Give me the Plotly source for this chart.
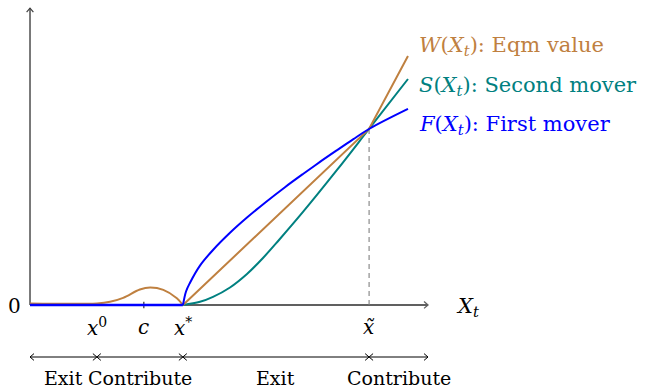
import plotly.graph_objects as go

# ---- curve data (state X_t on the horizontal axis, value on the vertical axis) ----
x_zero = 1.68      # x^0
c_val = 2.86       # c
x_star = 3.84      # x*
x_tilde = 8.52     # x~ (where the three curves cross)
x_end = 10.0       # end of horizontal axis
y_end = 7.46       # end of vertical axis

# F(X_t): first mover (zero below x*, concave above)
f_x = [3.844, 3.920, 4.020, 4.271, 4.598, 5.025, 5.452, 5.905, 6.407, 6.859,
       7.286, 7.714, 8.116, 8.518, 9.497]
f_y = [0.000, 0.340, 0.560, 0.990, 1.382, 1.814, 2.196, 2.570, 2.960, 3.291,
       3.595, 3.889, 4.161, 4.422, 4.925]

# S(X_t): second mover (zero below x*, convex above)
s_x = [3.844, 4.271, 4.598, 5.025, 5.452, 5.854, 6.256, 6.859, 7.714, 8.518, 9.497]
s_y = [0.000, 0.080, 0.204, 0.440, 0.779, 1.181, 1.633, 2.337, 3.392, 4.422, 5.678]

# W(X_t): equilibrium value -- small bump between x^0 and x*, then piecewise linear
w_bump_x = [0.00, 1.68, 2.01, 2.34, 2.76, 3.02, 3.35, 3.69, 3.84]
w_bump_y = [0.04, 0.04, 0.08, 0.18, 0.39, 0.44, 0.38, 0.17, 0.00]
w_lin_x = [3.844, 8.518, 9.497]
w_lin_y = [0.000, 4.422, 6.256]

tick_pos = [x_zero, c_val, x_star, x_tilde]
tick_text = ["<i>x</i><sup>0</sup>", "<i>c</i>", "<i>x</i><sup>*</sup>", "<i>x̃</i>"]

region_bounds = [0.0, x_zero, x_star, x_tilde, x_end]
region_names = ["Exit", "Contribute", "Exit", "Contribute"]

legend_names = [
    "<i>W</i>(<i>X</i><sub><i>t</i></sub>): Eqm value",
    "<i>S</i>(<i>X</i><sub><i>t</i></sub>): Second mover",
    "<i>F</i>(<i>X</i><sub><i>t</i></sub>): First mover",
]
legend_y = [6.51, 5.50, 4.52]

BROWN = "#bf8040"
TEAL = "#008080"
BLUE = "#0000ff"
AXIS = "#606060"
FONT = "DejaVu Serif"
FS = 20

fig = go.Figure()


def add_line(xs, ys, color, width, dash=None, shape="linear"):
    fig.add_trace(go.Scatter(
        x=xs, y=ys, mode="lines", hoverinfo="skip", showlegend=False,
        line=dict(color=color, width=width, dash=dash, shape=shape,
                  smoothing=1.0 if shape == "spline" else None),
    ))


def chevron(tx, ty, direction, color, width, ln=0.10, hw=0.085):
    # open arrow tip at (tx, ty) pointing in the given direction
    if direction == "right":
        xs, ys = [tx - ln, tx, tx - ln], [ty + hw, ty, ty - hw]
    elif direction == "left":
        xs, ys = [tx + ln, tx, tx + ln], [ty + hw, ty, ty - hw]
    else:  # up
        xs, ys = [tx - hw, tx, tx + hw], [ty - ln, ty, ty - ln]
    add_line(xs, ys, color, width)


# axes
add_line([0, x_end], [0, 0], AXIS, 1.8)
chevron(x_end, 0, "right", AXIS, 1.3)
add_line([0, 0], [0, y_end], "#404040", 1.4)
chevron(0, y_end, "up", "#404040", 1.2)

# tick at c
add_line([c_val, c_val], [-0.08, 0.08], "#303030", 1.2)

# dashed guide at x~
add_line([x_tilde, x_tilde], [0, 4.42], "#808080", 1.1, dash="5px,4px")

# curves
add_line([0, x_star], [0, 0], TEAL, 2.2)
add_line(s_x, s_y, TEAL, 2.0, shape="spline")
add_line(w_bump_x, w_bump_y, BROWN, 2.0, shape="spline")
add_line(w_lin_x, w_lin_y, BROWN, 2.0)
add_line([0, x_star], [0, 0], BLUE, 2.4)
add_line(f_x, f_y, BLUE, 2.0, shape="spline")

# region arrows under the axis
row_y = -1.307
for a, b in zip(region_bounds[:-1], region_bounds[1:]):
    add_line([a, b], [row_y, row_y], "black", 1.0)
    chevron(a, row_y, "left", "black", 1.0)
    chevron(b, row_y, "right", "black", 1.0)

annotations = []


def label(x, y, text, color="black", xanchor="center", size=FS):
    annotations.append(dict(
        x=x, y=y, xref="x", yref="y", text=text, showarrow=False,
        xanchor=xanchor, yanchor="middle",
        font=dict(family=FONT, size=size, color=color),
    ))


for pos, txt in zip(tick_pos, tick_text):
    label(pos, -0.55, txt)

label(-0.40, -0.03, "0")
label(11.0, -0.05, "<i>X</i><sub><i>t</i></sub>", size=21)

for a, b, name in zip(region_bounds[:-1], region_bounds[1:], region_names):
    label((a + b) / 2, -1.83, name, size=19)

for txt, ly, col in zip(legend_names, legend_y, [BROWN, TEAL, BLUE]):
    label(9.72, ly, txt, color=col, xanchor="left", size=21)

fig.update_layout(
    width=649, height=389, autosize=False,
    margin=dict(l=0, r=0, t=0, b=0),
    paper_bgcolor="white", plot_bgcolor="white",
    font=dict(family=FONT, size=FS),
    xaxis=dict(range=[-0.754, 15.553], visible=False, fixedrange=True),
    yaxis=dict(range=[-2.111, 7.663], visible=False, fixedrange=True),
    annotations=annotations,
    showlegend=False,
)

fig.write_html("out.html", config={"displayModeBar": False})
